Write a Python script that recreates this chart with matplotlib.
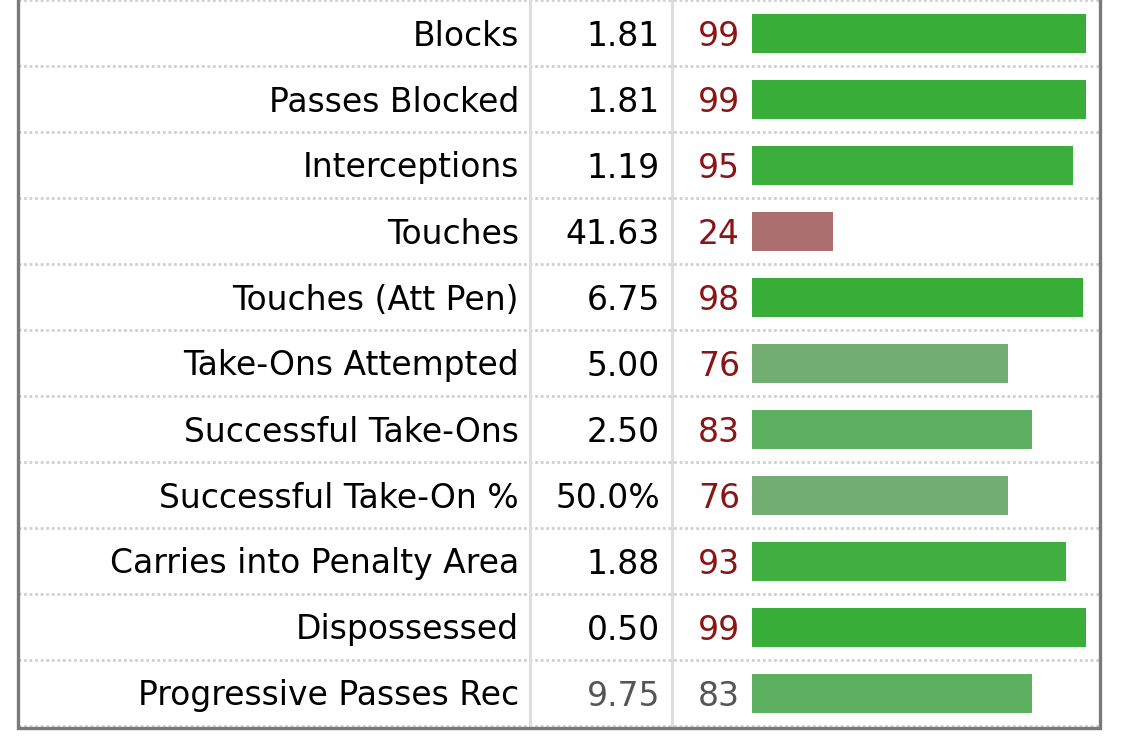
import matplotlib.pyplot as plt

labels = ['Blocks', 'Passes Blocked', 'Interceptions', 'Touches', 'Touches (Att Pen)',
          'Take-Ons Attempted', 'Successful Take-Ons', 'Successful Take-On %',
          'Carries into Penalty Area', 'Dispossessed', 'Progressive Passes Rec']
values = ['1.81', '1.81', '1.19', '41.63', '6.75', '5.00', '2.50', '50.0%', '1.88', '0.50', '9.75']
percentiles = [99, 99, 95, 24, 98, 76, 83, 76, 93, 99, 83]
bar_colors = ['#38ad38', '#38ad38', '#3aad3a', '#ab706d', '#38ad38', '#72ae72',
              '#5cb05f', '#72ae72', '#40ae40', '#38ad38', '#5cb05f']

W, H = 1125, 755
row_h = 66
x_left, x_right = 18, 1100
col1, col2 = 530, 672
bar_x0 = 752
px_per_pct = 3.374

fig = plt.figure(figsize=(W / 100, H / 100), dpi=100)
ax = fig.add_axes([0, 0, 1, 1])
ax.set_xlim(0, W)
ax.set_ylim(H, 0)
ax.axis('off')

n = len(labels)
y_bottom = n * row_h

# dotted row lines
for i in range(n + 1):
    ax.plot([x_left, x_right], [i * row_h, i * row_h], color='#cfcfcf',
            lw=2.0, ls=(0, (1.0, 1.0)), zorder=1)

# column separators
for xc in (col1, col2):
    ax.plot([xc, xc], [0, y_bottom], color='#dddddd', lw=2.2, zorder=1)

# outer border
ax.plot([x_left, x_left, x_right, x_right], [0, y_bottom + 2, y_bottom + 2, 0],
        color='#7a7a7a', lw=2.4, zorder=3, solid_joinstyle='miter')

fs = 23.8
dy = 3
for i in range(n):
    yc = i * row_h + row_h / 2 + dy
    last = i == n - 1
    ax.text(519, yc, labels[i], ha='right', va='center', fontsize=fs, color='black')
    ax.text(660, yc, values[i], ha='right', va='center', fontsize=fs,
            color='#555555' if last else 'black')
    ax.text(740, yc, str(percentiles[i]), ha='right', va='center', fontsize=fs,
            color='#555555' if last else '#8b1414')

ys = [i * row_h + row_h / 2 for i in range(n)]
ax.barh(ys, [p * px_per_pct for p in percentiles], left=bar_x0, height=39,
        color=bar_colors, zorder=2)

fig.savefig('out.png', dpi=100, facecolor='white')
